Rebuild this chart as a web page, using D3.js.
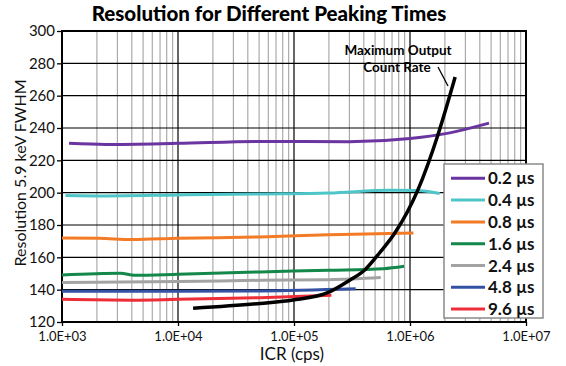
<!DOCTYPE html>
<html><head><meta charset="utf-8">
<script src="https://cdn.jsdelivr.net/npm/d3@7"></script>
<style>body{margin:0;background:#fff}svg{display:block}text{font-family:Lato,"Open Sans",sans-serif}</style>
</head><body><svg id="c" width="566" height="366"></svg>
<script>
const seriesNames = ["0.2 µs","0.4 µs","0.8 µs","1.6 µs","2.4 µs","4.8 µs","9.6 µs"];
const seriesColors = ["#6a35a0","#4ec6c9","#f47b26","#14874a","#a3a3a3","#3452a4","#ee2d38"];
const s02 = [[1.15e3,230.5],[2.4e3,229.8],[1e4,230.5],[5.1e4,231.7],[3e5,231.5],[1e6,233.5],[2.2e6,237],[4.8e6,243]];
const s04 = [[1.07e3,198.3],[2.4e3,198],[1e4,198.6],[5.1e4,199.2],[2e5,199.8],[6.7e5,201.5],[1.15e6,201.3],[1.8e6,199.5]];
const s08 = [[1e3,172],[2.1e3,171.8],[4e3,171],[1e4,171.8],[5.1e4,172.6],[2e5,174],[1.07e6,175]];
const s16 = [[1e3,149],[3.2e3,150.1],[4.2e3,148.9],[1e4,149.5],[5.1e4,151],[2e5,152],[5.9e5,153],[8.9e5,154.5]];
const s24 = [[1e3,144.5],[1e4,145],[5.1e4,145.8],[2e5,146.2],[5.6e5,147.5]];
const s48 = [[1e3,139],[1e4,139],[5.1e4,139.2],[3.4e5,140.5]];
const s96 = [[1e3,134],[4e3,133.5],[1e4,134],[5.1e4,135],[2.1e5,136.5]];
const mocr = [[1.35e4,128.5],[5.1e4,131.5],[9.8e4,133.6],[2e5,138.5],[3.04e5,146],[4.07e5,152.2],[5.5e5,163],[7.4e5,175],[1.17e6,201.7],[1.74e6,235.7],[2.45e6,271.5]];
const seriesData = [s02,s04,s08,s16,s24,s48,s96];
const yTicks = [120,140,160,180,200,220,240,260,280,300];
const xTicks = [1e3,1e4,1e5,1e6,1e7];
const xTickLabels = ["1.0E+03","1.0E+04","1.0E+05","1.0E+06","1.0E+07"];

const svg = d3.select("#c");
const L=62,R=526,T=31,B=322;
const x = d3.scaleLog().domain([1e3,1e7]).range([L,R]);
const y = d3.scaleLinear().domain([120,300]).range([B,T]);

// minor vertical grid
const minors=[];
for(let d=1e3; d<1e7; d*=10) for(let k=2;k<10;k++) minors.push(d*k);
svg.append("g").selectAll("line").data(minors).join("line")
  .attr("x1",d=>x(d)).attr("x2",d=>x(d)).attr("y1",T).attr("y2",B)
  .attr("stroke","#9a9a9a").attr("stroke-width",1);
// major grid
svg.append("g").selectAll("line").data(xTicks).join("line")
  .attr("x1",d=>x(d)).attr("x2",d=>x(d)).attr("y1",T).attr("y2",B)
  .attr("stroke","#000").attr("stroke-width",1.2);
svg.append("g").selectAll("line").data(yTicks).join("line")
  .attr("x1",L).attr("x2",R).attr("y1",d=>y(d)).attr("y2",d=>y(d))
  .attr("stroke","#000").attr("stroke-width",1.2);
// frame
svg.append("rect").attr("x",L).attr("y",T).attr("width",R-L).attr("height",B-T)
  .attr("fill","none").attr("stroke","#000").attr("stroke-width",2);

// axes
const yAxis = d3.axisLeft(y).tickValues(yTicks).tickSize(5).tickPadding(2);
const gy = svg.append("g").attr("transform",`translate(${L},0)`).call(yAxis);
gy.select(".domain").remove();
gy.selectAll("text").attr("font-size",15).attr("fill","#111").style("font-family","Lato");
gy.selectAll("line").attr("stroke","#000").attr("stroke-width",1.3);
const xAxis = d3.axisBottom(x).tickValues(xTicks).tickFormat((d,i)=>xTickLabels[i]).tickSize(4).tickPadding(6);
const gx = svg.append("g").attr("transform",`translate(0,${B})`).call(xAxis);
gx.select(".domain").remove();
gx.selectAll("text").attr("font-size",13).attr("fill","#111").style("font-family","Lato");
gx.selectAll("line").attr("stroke","#000").attr("stroke-width",1.3);

// series
const line = d3.line().x(d=>x(d[0])).y(d=>y(d[1])).curve(d3.curveMonotoneX);
seriesData.forEach((s,i)=>{
  svg.append("path").attr("d",line(s)).attr("fill","none")
    .attr("stroke",seriesColors[i]).attr("stroke-width",3).attr("stroke-linecap","butt");
});
svg.append("path").attr("d",d3.line().x(d=>x(d[0])).y(d=>y(d[1])).curve(d3.curveMonotoneX)(mocr))
  .attr("fill","none").attr("stroke","#000").attr("stroke-width",3.5);

// annotation
svg.append("text").attr("x",398).attr("y",55).attr("text-anchor","middle")
  .attr("font-size",13.5).attr("font-weight",700).text("Maximum Output");
svg.append("text").attr("x",397).attr("y",72).attr("text-anchor","middle")
  .attr("font-size",13.5).attr("font-weight",700).text("Count Rate");
svg.append("line").attr("x1",438).attr("y1",67).attr("x2",448).attr("y2",86)
  .attr("stroke","#000").attr("stroke-width",1.3);

// legend
const lg = svg.append("g");
lg.append("rect").attr("x",444).attr("y",164).attr("width",99).attr("height",154)
  .attr("fill","#fff").attr("stroke","#8a8a8a").attr("stroke-width",1.5);
seriesNames.forEach((n,i)=>{
  const yy = 178.3 + i*21.8;
  lg.append("line").attr("x1",451).attr("x2",485).attr("y1",yy).attr("y2",yy)
    .attr("stroke",seriesColors[i]).attr("stroke-width",3);
  lg.append("text").attr("x",488).attr("y",yy+6).attr("font-size",17).attr("font-weight",700)
    .attr("fill","#111").text(n);
});

// title and labels
svg.append("text").attr("x",269).attr("y",21).attr("text-anchor","middle")
  .attr("font-size",20.5).attr("font-weight",900).text("Resolution for Different Peaking Times");
svg.append("text").attr("transform","translate(26,173) rotate(-90)").attr("text-anchor","middle")
  .attr("font-size",16).attr("fill","#111").text("Resolution 5.9 keV FWHM");
svg.append("text").attr("x",292).attr("y",360).attr("text-anchor","middle")
  .attr("font-size",17).attr("fill","#111").text("ICR (cps)");
</script></body></html>
